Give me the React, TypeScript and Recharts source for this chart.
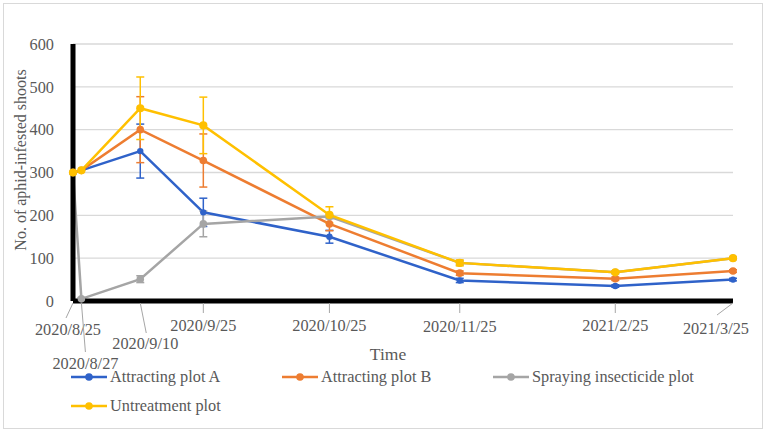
import React from 'react';
import { ComposedChart, Line, XAxis, YAxis, CartesianGrid, ErrorBar, Label } from 'recharts';

const dateLabels = ['2020/8/25', '2020/8/27', '2020/9/10', '2020/9/25', '2020/10/25', '2020/11/25', '2021/2/25', '2021/3/25'];
const timeValues = [0, 2, 16, 31, 61, 92, 129, 157];
const yTicks = [0, 100, 200, 300, 400, 500, 600];

const plotA = [300, 305, 350, 207, 150, 48, 35, 50];
const plotAErr = [0, 0, 63, 33, 15, 5, 3, 3];
const plotB = [300, 305, 400, 328, 180, 65, 52, 70];
const plotBErr = [0, 0, 77, 62, 16, 5, 4, 3];
const spraying = [300, 5, 51, 180, 197, 89, 67, 100];
const sprayingErr = [0, 3, 8, 30, 5, 5, 3, 3];
const untreated = [300, 305, 450, 410, 201, 89, 67, 100];
const untreatedErr = [0, 0, 73, 66, 19, 7, 3, 3];

const seriesNames = ['Attracting plot A', 'Attracting plot B', 'Spraying insecticide plot', 'Untreatment plot'];
const seriesColors = ['#2F62C9', '#ED7D31', '#A5A5A5', '#FFC000'];

const data = timeValues.map((t, i) => ({
  t,
  a: plotA[i], aErr: plotAErr[i],
  b: plotB[i], bErr: plotBErr[i],
  s: spraying[i], sErr: sprayingErr[i],
  u: untreated[i], uErr: untreatedErr[i],
}));

const FONT = '"Liberation Serif", "Times New Roman", serif';
const TEXT = '#595959';

// label layout relative to tick: text centre dx, text centre dy, leader end dx/dy
const tickLayout = [
  { dx: -5, cy: 28, lx2: -7, ly2: 17 },
  { dx: 4, cy: 62, lx2: 4, ly2: 51 },
  { dx: 5, cy: 42, lx2: 6, ly2: 32 },
  { dx: 0, cy: 24, lx2: 0, ly2: 12 },
  { dx: 0, cy: 24, lx2: 0, ly2: 12 },
  { dx: 0, cy: 25, lx2: 0, ly2: 12 },
  { dx: 0, cy: 24, lx2: 0, ly2: 12 },
  { dx: -17, cy: 27, lx2: -16, ly2: 14 },
];

const XTick = (props: any) => {
  const { x, y, payload } = props;
  const i = timeValues.indexOf(payload.value);
  if (i < 0) return null;
  const l = tickLayout[i];
  return (
    <g>
      <line x1={x} y1={y + 2} x2={x + l.lx2} y2={y + l.ly2} stroke="#A6A6A6" strokeWidth={1} />
      <text x={x + l.dx} y={y + l.cy + 5.5} textAnchor="middle" fill={TEXT} fontSize={16.3} style={{ fontFamily: FONT }}>
        {dateLabels[i]}
      </text>
    </g>
  );
};

const LegendItem = ({ name, color, left, top }: { name: string; color: string; left: number; top: number }) => (
  <div style={{ position: 'absolute', left, top: top - 12, height: 24, display: 'flex', alignItems: 'center', whiteSpace: 'nowrap' }}>
    <svg width={36} height={24} style={{ display: 'block' }}>
      <line x1={0} y1={12} x2={36} y2={12} stroke={color} strokeWidth={2.5} />
      <circle cx={18} cy={12} r={3.8} fill={color} />
    </svg>
    <span style={{ marginLeft: 3, fontFamily: FONT, fontSize: 16.3, color: TEXT }}>{name}</span>
  </div>
);

const legendPos = [
  { left: 71, top: 377 },
  { left: 282, top: 377 },
  { left: 493, top: 377 },
  { left: 71, top: 406 },
];

export default function App() {
  const keys = ['a', 'b', 's', 'u'];
  const radii = [3.2, 3.8, 3.8, 4.1];
  return (
    <div style={{ position: 'absolute', left: 0, top: 0, width: 765, height: 432, background: '#fff', overflow: 'hidden' }}>
      <div style={{ position: 'absolute', left: 3, top: 3, width: 758, height: 424, border: '1px solid #D9D9D9' }} />
      <ComposedChart width={765} height={432} data={data} margin={{ top: 44, right: 32, left: 0, bottom: 101 }}>
        <CartesianGrid horizontal vertical={false} stroke="#D9D9D9" strokeWidth={1.3} />
        <XAxis
          dataKey="t"
          type="number"
          domain={[0, 157]}
          ticks={timeValues}
          interval={0}
          height={30}
          tickSize={0}
          tickMargin={0}
          tickLine={false}
          axisLine={{ stroke: '#000', strokeWidth: 5 }}
          tick={<XTick />}
        >
          <Label
            content={() => (
              <text x={388} y={360} textAnchor="middle" fill={TEXT} fontSize={17.5} style={{ fontFamily: FONT }}>
                Time
              </text>
            )}
          />
        </XAxis>
        <YAxis
          type="number"
          domain={[0, 600]}
          ticks={yTicks}
          width={73}
          tickSize={0}
          tickMargin={19}
          tickLine={false}
          axisLine={{ stroke: '#000', strokeWidth: 5 }}
          tick={{ fill: TEXT, fontSize: 16.3, fontFamily: FONT, style: { fontFamily: FONT } }}
        >
          <Label
            content={() => (
              <text
                x={20}
                y={160}
                transform="rotate(-90 20 160)"
                textAnchor="middle"
                dominantBaseline="central"
                fill={TEXT}
                fontSize={16}
                style={{ fontFamily: FONT }}
              >
                No. of aphid-infested shoots
              </text>
            )}
          />
        </YAxis>
        {keys.map((k, i) => (
          <Line
            key={k}
            dataKey={k}
            name={seriesNames[i]}
            type="linear"
            stroke={seriesColors[i]}
            strokeWidth={2.5}
            dot={{ r: radii[i], fill: seriesColors[i], stroke: seriesColors[i], strokeWidth: 0 }}
            activeDot={false}
            isAnimationActive={false}
          >
            <ErrorBar dataKey={k + 'Err'} direction="y" width={4} stroke={seriesColors[i]} strokeWidth={1.5} />
          </Line>
        ))}
      </ComposedChart>
      {seriesNames.map((n, i) => (
        <LegendItem key={n} name={n} color={seriesColors[i]} left={legendPos[i].left} top={legendPos[i].top} />
      ))}
    </div>
  );
}
